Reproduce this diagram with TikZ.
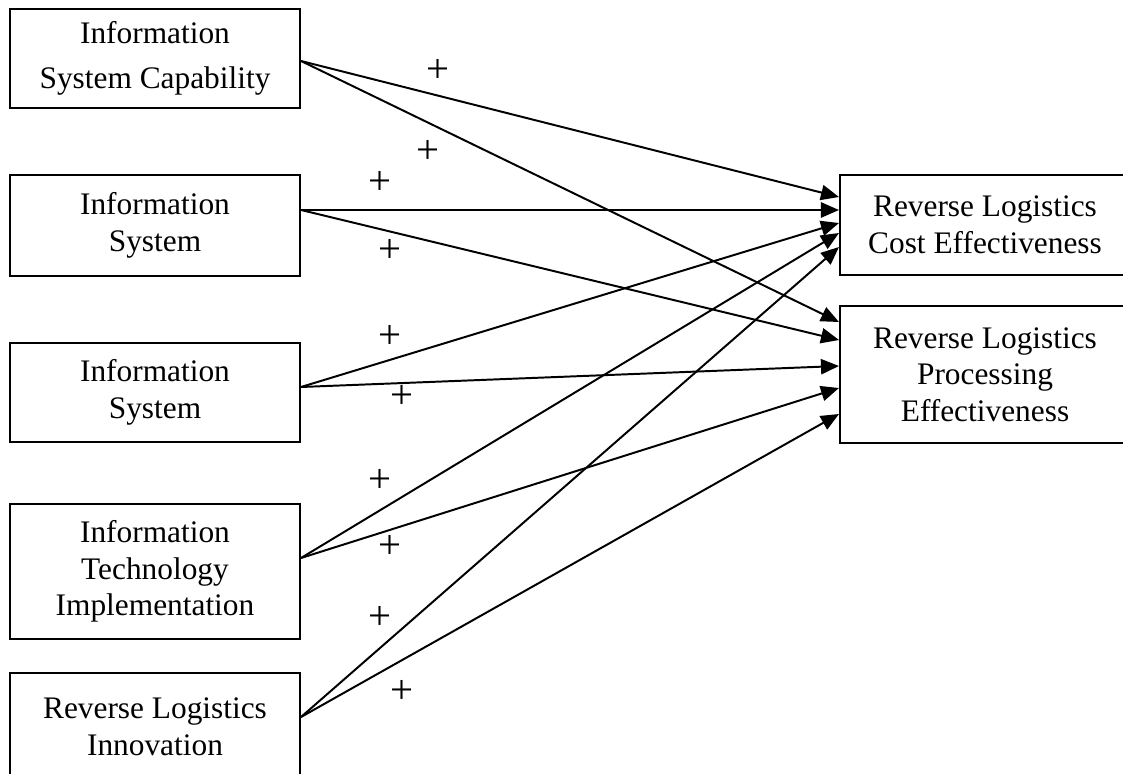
\documentclass[tikz,border=0pt]{standalone}
\usepackage{fontspec}
\setmainfont{Liberation Serif}
\usetikzlibrary{arrows.meta}

\begin{document}
\begin{tikzpicture}[
  x=0.025cm, y=-0.025cm,
  every node/.style={font=\fontsize{22.3}{26}\selectfont},
  factor/.style={rectangle, draw, line width=1.4pt, minimum width=7.25cm,
                 inner sep=0pt, align=center},
  outcome/.style={rectangle, draw, line width=1.4pt, minimum width=7.25cm,
                  inner sep=0pt, align=center},
  sign/.style={inner sep=0pt, font=\fontsize{29}{30}\selectfont},
  arrow/.style={-{Triangle[length=4.5mm, width=3.8mm]}, line width=1.4pt},
]
\useasboundingbox (0,0) rectangle (1123,774);
\clip (0,0) rectangle (1123,774);
% antecedents
\node[factor, minimum height=2.475cm] (isc) at (155,58.5)
      {Information\\[0.2cm] System Capability};
\node[factor, minimum height=2.525cm] (isa) at (155,225.5)
      {Information\\ System};
\node[factor, minimum height=2.475cm] (isb) at (155,392.5)
      {Information\\ System};
\node[factor, minimum height=3.375cm] (iti) at (155,571.5)
      {Information\\ Technology\\ Implementation};
\node[factor, minimum height=2.675cm] (rli) at (155,726.5)
      {Reverse Logistics\\ Innovation};
% outcomes
\node[outcome, minimum height=2.5cm]   (rlc) at (985,225)
      {Reverse Logistics\\ Cost Effectiveness};
\node[outcome, minimum height=3.425cm] (rlp) at (985,374.5)
      {Reverse Logistics\\ Processing\\ Effectiveness};
% paths
\draw[arrow] (isc.east |- 0,61)  -- (rlc.west |- 0,197);
\draw[arrow] (isc.east |- 0,61)  -- (rlp.west |- 0,322);
\draw[arrow] (isa.east |- 0,210) -- (rlc.west |- 0,210);
\draw[arrow] (isa.east |- 0,210) -- (rlp.west |- 0,340);
\draw[arrow] (isb.east |- 0,387) -- (rlc.west |- 0,223);
\draw[arrow] (isb.east |- 0,387) -- (rlp.west |- 0,366);
\draw[arrow] (iti.east |- 0,558) -- (rlc.west |- 0,233);
\draw[arrow] (iti.east |- 0,558) -- (rlp.west |- 0,388);
\draw[arrow] (rli.east |- 0,717) -- (rlc.west |- 0,247);
\draw[arrow] (rli.east |- 0,717) -- (rlp.west |- 0,414);
% signs
\node[sign] (p1)  at (438,71)  {+};
\node[sign] (p2)  at (428,152) {+};
\node[sign] (p3)  at (380,183) {+};
\node[sign] (p4)  at (390,251) {+};
\node[sign] (p5)  at (390,337) {+};
\node[sign] (p6)  at (402,397) {+};
\node[sign] (p7)  at (380,481) {+};
\node[sign] (p8)  at (390,547) {+};
\node[sign] (p9)  at (380,618) {+};
\node[sign] (p10) at (402,692) {+};
\end{tikzpicture}
\end{document}
